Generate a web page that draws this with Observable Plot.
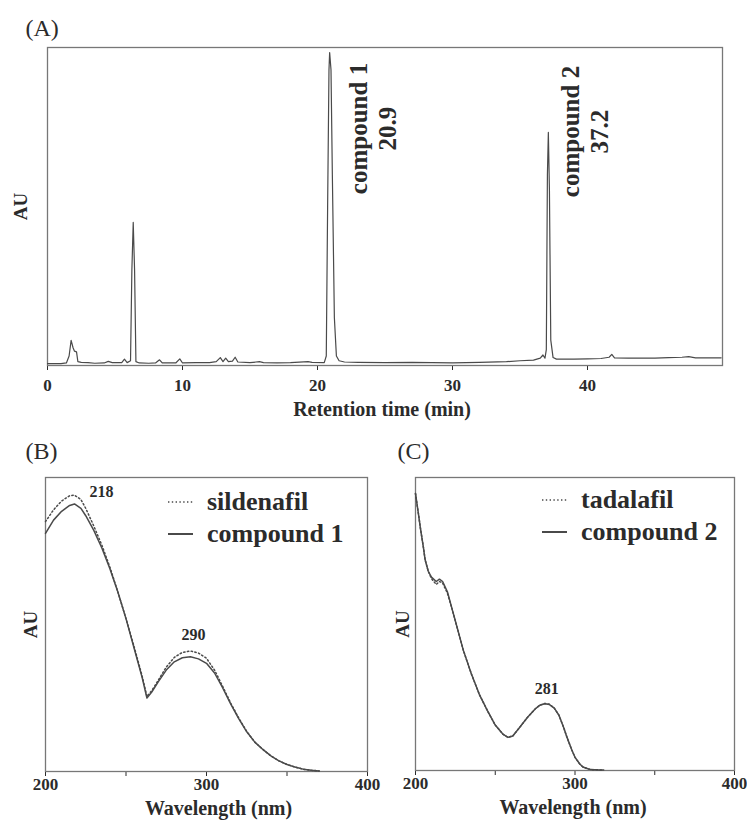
<!DOCTYPE html>
<html><head><meta charset="utf-8">
<script src="https://cdn.jsdelivr.net/npm/d3@7"></script>
<script src="https://cdn.jsdelivr.net/npm/@observablehq/plot@0.6"></script>
<style>
body{margin:0;background:#fff;}
#root{position:relative;width:747px;height:824px;overflow:hidden;}
.abs{position:absolute;}
</style></head><body><div id="root"></div>
<script>
// ---------- Panel A: chromatogram ----------
const timeMin = [0,1.0,1.4,1.6,1.75,1.9,2.0,2.15,2.25,2.5,3.0,3.5,4.2,4.5,4.8,5.5,5.7,5.9,6.15,6.25,6.35,6.45,6.55,6.8,7.5,8.0,8.3,8.5,9.5,9.8,10.0,11.0,12.0,12.5,12.8,13.0,13.2,13.4,13.7,13.9,14.1,15.0,15.7,16.0,17.0,18.0,19.3,19.6,20.5,20.65,20.75,20.85,20.9,21.0,21.1,21.25,21.4,21.6,22.0,23,25,27,30,32,34,35,36.0,36.5,36.7,36.85,36.95,37.03,37.1,37.18,37.28,37.45,37.7,39,40,41.0,41.6,41.8,42.0,43,45,46,47,47.5,48,49.9];
const chromAU = [0.6,0.6,0.8,3,7.9,5.5,4.5,4.3,1.2,1.0,0.9,0.7,0.8,1.3,0.9,0.9,2.0,0.9,1.5,30,45,30,1.2,0.8,0.7,0.8,1.8,0.8,0.8,2.1,0.8,0.9,0.9,1.2,2.5,1.2,2.3,1.2,1.4,2.6,1.1,0.9,1.2,0.9,0.8,0.9,1.2,1.0,0.9,3,50,93,98.4,93,60,15,3,1.5,1.1,1.0,0.9,1.0,0.8,1.0,1.2,1.5,1.7,2.3,3.3,2.3,5,60,73.3,55,8,2.5,2.0,2.0,2.1,2.2,2.6,3.5,2.4,2.3,2.3,2.5,2.6,2.8,2.4,2.4];
const peakTimes = [20.9, 37.1];
const peakLabels = ["compound 1\n20.9", "compound 2\n37.2"];
const xTicksA = [0,10,20,30,40];

// ---------- Panel B: UV spectra ----------
const wavelengthB = [200,205,210,215,218,222,225,230,235,240,245,250,255,260,263,266,270,275,280,285,290,295,300,305,310,315,320,325,330,335,340,345,350,355,360,365,370];
const sildenafilAU = [85,89,92,93.8,94,92.5,89.5,83.5,77,69.5,61,52,42.5,32.5,25.5,27.5,31,35.5,38.8,40.5,41,40.3,38.5,34.5,29,23.3,18.2,13.6,10,7.5,5.3,3.6,2.4,1.5,0.8,0.4,0.2];
const compound1AU = [81,85.5,88.5,90.5,91,89.5,87,82,76,69,61,52,42,32,25,27,30.5,34.5,37.3,38.7,39,38.3,36.8,33.5,28.5,23,18,13.5,10,7.5,5.3,3.6,2.4,1.5,0.8,0.4,0.2];
const peaksB = ["218", "290"];

// ---------- Panel C: UV spectra ----------
const wavelengthC = [200,202,203,205,206,208,210,213,215,217,220,223,225,228,230,235,240,245,250,255,258,261,265,270,275,278,281,284,287,290,293,295,298,300,303,305,308,310,315,318];
const tadalafilAU = [94.5,87,83,76,72,68,65.5,63.5,64.5,64,60.5,55,51,45,41,33,26,20.5,15.5,12.3,11.3,11.8,14.5,18,21,22.3,22.9,22.6,21.3,18.8,14.5,11.3,7,4.5,2.2,1.2,0.6,0.3,0.2,0.2];
const compound2AU = [94.5,87,83,76,72,68,66,64.5,65.3,64.5,61,55,51,45,41,33,26,20.5,15.5,12.3,11.3,11.8,14.5,18,21,22.3,22.8,22.5,21.3,18.8,14.5,11.3,7,4.5,2.2,1.2,0.6,0.3,0.2,0.2];
const peaksC = ["281"];

const xTicksUV = [200,250,300,350,400];
const uvTickLabels = ["200","","300","","400"];
const legendB = ["sildenafil", "compound 1"];
const legendC = ["tadalafil", "compound 2"];

const FONT = '"Liberation Serif","Times New Roman",serif';
const INK = "#2b2b2b";
const LINE = "#4a4a4a";
const FRAME = "#777";
const DOT = "1.4 2.4";

const root = document.getElementById("root");
function place(el, left, top) {
  const d = document.createElement("div");
  d.className = "abs";
  d.style.left = left + "px"; d.style.top = top + "px";
  d.appendChild(el); root.appendChild(d);
}
const MID = {lineAnchor: "middle", textAnchor: "middle"};

// Panel A
const chrom = timeMin.map((t, i) => ({t, au: chromAU[i]}));
const plotA = Plot.plot({
  width: 747, height: 430,
  marginLeft: 47, marginRight: 25, marginTop: 47, marginBottom: 65,
  style: {fontFamily: FONT, fontSize: "17px", fontWeight: "bold", color: INK, background: "transparent", overflow: "visible"},
  x: {domain: [0, 50], ticks: xTicksA, tickSize: 5, tickPadding: 8, label: null, tickFormat: d => String(d)},
  y: {domain: [0, 100], axis: null},
  marks: [
    Plot.frame({stroke: FRAME, strokeWidth: 1.3}),
    Plot.line(chrom, {x: "t", y: "au", stroke: LINE, strokeWidth: 1.2}),
    Plot.text([peakLabels[0]], {...MID, x: [peakTimes[0]], text: d => d, frameAnchor: "top", dy: 81, dx: 43, rotate: -90, lineHeight: 1.16, fontSize: 25, fill: INK}),
    Plot.text([peakLabels[1]], {...MID, x: [peakTimes[1]], text: d => d, frameAnchor: "top", dy: 84, dx: 36, rotate: -90, lineHeight: 1.16, fontSize: 25, fill: INK}),
    Plot.text(["AU"], {...MID, text: d => d, frameAnchor: "left", dx: -27, rotate: -90, fontSize: 19, fill: INK}),
    Plot.text(["Retention time (min)"], {...MID, text: d => d, frameAnchor: "bottom", dy: 44, dx: -3, fontSize: 20, fill: INK}),
    Plot.text(["(A)"], {text: d => d, frameAnchor: "top-left", lineAnchor: "middle", dx: -22, dy: -19, fontSize: 24, fontWeight: "normal", textAnchor: "start", fill: INK})
  ]
});
place(plotA, 0, 0);

function uvPlot(opts) {
  const {wl, ref, cmp, width, ml, mr, mt, mb, labelDx, auDx, tag, tagDx, annots} = opts;
  const refData = wl.map((w, i) => ({w, au: ref[i]}));
  const cmpData = wl.map((w, i) => ({w, au: cmp[i]}));
  const annotMarks = annots.map(a => {
    const i = wl.indexOf(+a.label);
    return Plot.text([a.label], {x: [wl[i]], y: [ref[i]], text: d => d, dx: a.dx, dy: a.dy, fontSize: 16, fill: INK});
  });
  return Plot.plot({
    width, height: 404,
    marginLeft: ml, marginRight: mr, marginTop: mt, marginBottom: mb,
    style: {fontFamily: FONT, fontSize: "17px", fontWeight: "bold", color: INK, background: "transparent", overflow: "visible"},
    x: {domain: [200, 400], ticks: xTicksUV, tickSize: 5, tickPadding: 1, label: null,
        tickFormat: d => uvTickLabels[xTicksUV.indexOf(d)]},
    y: {domain: [0, 100], axis: null},
    marks: [
      Plot.frame({stroke: FRAME, strokeWidth: 1.3}),
      Plot.line(refData, {x: "w", y: "au", stroke: LINE, strokeWidth: 1.5, strokeDasharray: DOT}),
      Plot.line(cmpData, {x: "w", y: "au", stroke: LINE, strokeWidth: 1.5}),
      ...annotMarks,
      Plot.text(["AU"], {...MID, text: d => d, frameAnchor: "left", dx: auDx, rotate: -90, fontSize: 19, fill: INK}),
      Plot.text(["Wavelength (nm)"], {...MID, text: d => d, frameAnchor: "bottom", dy: 37, dx: labelDx, fontSize: 20, fill: INK}),
      Plot.text([tag], {text: d => d, frameAnchor: "top-left", lineAnchor: "middle", dx: tagDx, dy: -26, fontSize: 24, fontWeight: "normal", textAnchor: "start", fill: INK})
    ]
  });
}

place(uvPlot({wl: wavelengthB, ref: sildenafilAU, cmp: compound1AU, width: 380, ml: 45, mr: 13, mt: 57, mb: 53,
  labelDx: 12, auDx: -15, tag: "(B)", tagDx: -20,
  annots: [{label: peaksB[0], dx: 27, dy: -3}, {label: peaksB[1], dx: 3, dy: -16}]}), 0, 420);

place(uvPlot({wl: wavelengthC, ref: tadalafilAU, cmp: compound2AU, width: 367, ml: 35, mr: 13, mt: 57, mb: 54,
  labelDx: -2, auDx: -13, tag: "(C)", tagDx: -18,
  annots: [{label: peaksC[0], dx: 2, dy: -15}]}), 380, 420);

// Legends
function legend(names, left, top) {
  const svg = d3.create("svg").attr("width", 200).attr("height", 70)
    .style("overflow", "visible");
  names.forEach((name, i) => {
    const y = 15 + i * 32;
    svg.append("line").attr("x1", 0).attr("x2", 25).attr("y1", y).attr("y2", y)
      .attr("stroke", LINE).attr("stroke-width", i === 0 ? 1.5 : 2)
      .attr("stroke-dasharray", i === 0 ? DOT : null);
    svg.append("text").attr("x", 39).attr("y", y).attr("dy", "0.32em")
      .attr("font-family", FONT).attr("font-weight", "bold").attr("font-size", 26)
      .attr("fill", INK).text(name);
  });
  place(svg.node(), left, top);
}
legend(legendB, 168, 487);
legend(legendC, 542, 485);
</script></body></html>
